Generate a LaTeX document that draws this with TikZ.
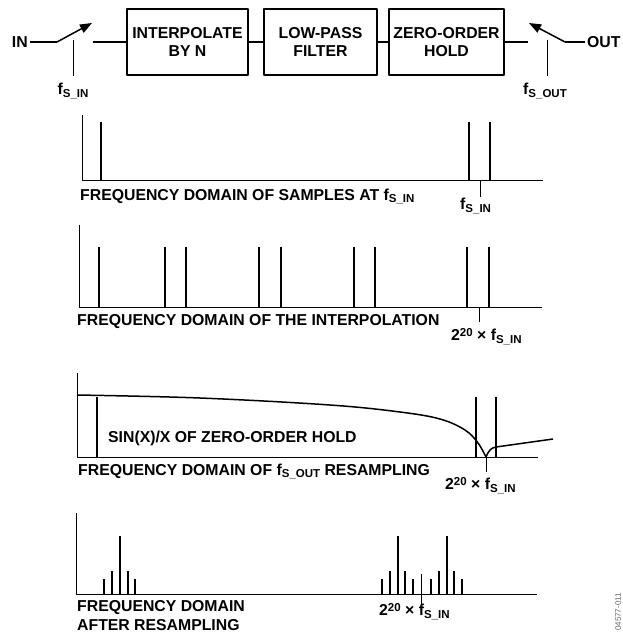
\documentclass[tikz,border=0pt]{standalone}
\usepackage{fontspec}
\setmainfont{Liberation Sans}
\usetikzlibrary{arrows.meta, calc}

\newcommand{\lo}[1]{\raisebox{-0.35ex}{\fontsize{11.5}{11.5}\selectfont #1}}
\newcommand{\hi}[1]{\raisebox{0.55ex}{\fontsize{11.5}{11.5}\selectfont #1}}

\begin{document}
\begin{tikzpicture}[line join=round,x=1pt,y=-1pt,
    every node/.style={font=\fontsize{15.8}{18}\selectfont\bfseries, inner sep=0pt},
    blk/.style={draw, line width=1.3pt, minimum height=66pt, align=center},
    wire/.style={line width=1.5pt},
    spike/.style={line width=2pt},
    axis/.style={line width=1pt},
    tip/.style={-{Triangle[length=12pt,width=9pt]}}]
    \useasboundingbox (0,0) rectangle (623,632);

    % blocks
    \draw (187.5,42) node[blk, minimum width=121pt] (interp) {INTERPOLATE\\BY N};
    \draw (320.5,42) node[blk, minimum width=113pt] (lpf) {LOW-PASS\\FILTER};
    \draw (446.5,42) node[blk, minimum width=115pt] (zoh) {ZERO-ORDER\\HOLD};

    % input switch
    \draw (28,42) node[anchor=east] (in) {IN};
    \coordinate (swin) at (57,42);
    \coordinate (swintip) at (92,23);
    \coordinate (swinout) at (93,42);
    \draw[wire] ([xshift=2pt]in.east) -- (swin);
    \draw[wire, tip] (swin) -- (swintip);
    \draw[axis] (73,40) -- (73,76);
    \draw (73,83) node[anchor=north] (fsin) {f\lo{S\_IN}};

    % output switch
    \draw (587,42) node[anchor=west] (out) {OUT};
    \coordinate (swout) at (565,42);
    \coordinate (swouttip) at (529,23);
    \coordinate (zohout) at (528,42);
    \draw[wire] ([xshift=-2pt]out.west) -- (swout);
    \draw[wire, tip] (swout) -- (swouttip);
    \draw[axis] (547,40) -- (547,76);
    \draw (545,83) node[anchor=north] (fsout) {f\lo{S\_OUT}};

    % Edges
    \foreach \source/\target in {swinout/interp, interp/lpf, lpf/zoh, zoh/zohout} {
            \draw[wire] (\source) -- (\target);
        }

    % samples at fs_in
    \draw[axis] (82,115) -- (82,180) -- (543,180);
    \foreach \x in {101,469,490} {
            \draw[spike] (\x,122) -- (\x,180);
        }
    \draw[axis] (480,180) -- (480,197);
    \draw (80,200) node[anchor=base west] (cap1) {FREQUENCY DOMAIN OF SAMPLES AT f\lo{S\_IN}};
    \draw (460,198) node[anchor=north west] (lab1) {f\lo{S\_IN}};

    % interpolation
    \draw[axis] (79,225) -- (79,307) -- (542,307);
    \foreach \x in {99,165,186,259,281,354,375,467,489} {
            \draw[spike] (\x,247) -- (\x,307);
        }
    \draw[axis] (479,307) -- (479,322);
    \draw (77,325) node[anchor=base west] (cap2) {FREQUENCY DOMAIN OF THE INTERPOLATION};
    \draw (451,328) node[anchor=north west] (lab2) {2\hi{20} × f\lo{S\_IN}};

    % resampling with sin(x)/x
    \draw[axis] (77,373) -- (77,457) -- (538,457);
    \foreach \x in {97,476,496} {
            \draw[wire] (\x,397) -- (\x,457);
        }
    \draw[axis] (486,457) -- (486,472);
    \draw[wire] plot[smooth, tension=0.6] coordinates {(77,395) (200,398) (330,405) (400,412) (440,419) (465,430) (478,443) (486,457)};
    \draw[wire] (486,457) .. controls (489,450) and (491,448) .. (496,447) -- (553,439);
    \draw (108,442) node[anchor=base west] (sinc) {SIN(X)/X OF ZERO-ORDER HOLD};
    \draw (78,475) node[anchor=base west] (cap3) {FREQUENCY DOMAIN OF f\lo{S\_OUT} RESAMPLING};
    \draw (445,477) node[anchor=north west] (lab3) {2\hi{20} × f\lo{S\_IN}};

    % after resampling
    \draw[axis] (76,513) -- (76,594) -- (537,594);
    \foreach \x/\h in {104/15,112/23,120/58,128/23,135/15,382/15,389.5/23,397.5/58,405/23,413/15,431/15,438.5/23,446.5/58,454/23,462/15} {
            \draw[spike] (\x,594) -- ++(0,-\h);
        }
    \draw[axis] (421,574) -- (421,608);
    \draw (77,611) node[anchor=base west] (cap4) {FREQUENCY DOMAIN};
    \draw (77,630) node[anchor=base west] (cap4b) {AFTER RESAMPLING};
    \draw (379,603) node[anchor=north west] (lab4) {2\hi{20} × f\lo{S\_IN}};

    \draw (618,612) node[rotate=90, font=\fontsize{8}{8}\selectfont, text=black!60] (fig) {04577-011};
\end{tikzpicture}
\end{document}
